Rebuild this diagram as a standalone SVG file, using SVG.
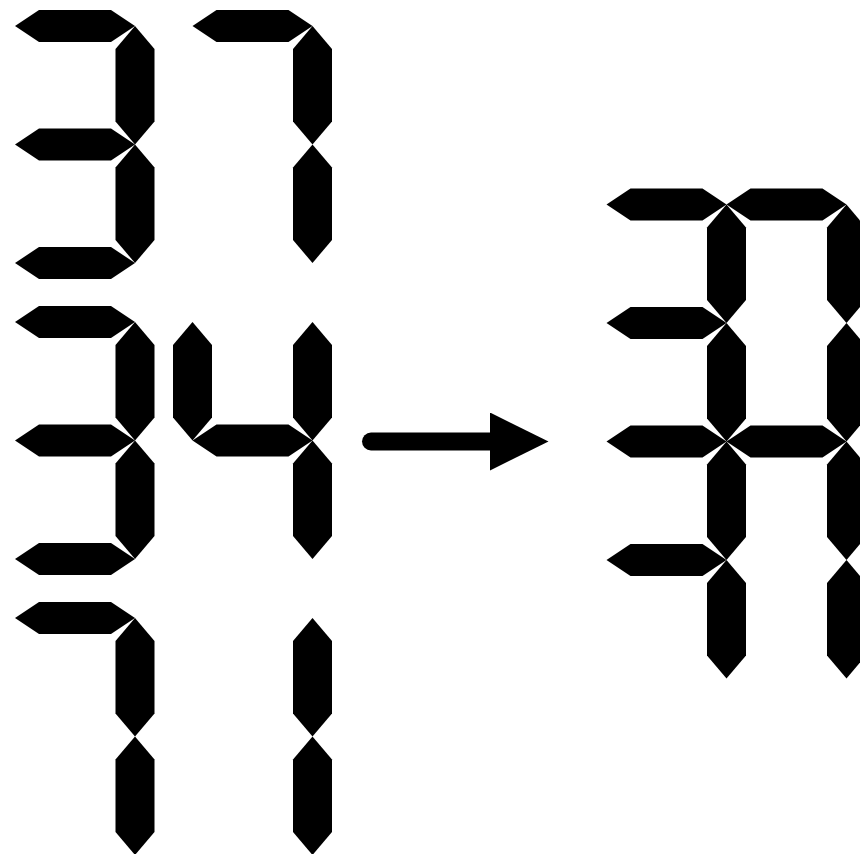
<svg xmlns="http://www.w3.org/2000/svg" width="860" height="854" viewBox="0 0 860 854">
<style>
.seg{fill:#000}
.conn{stroke:#000;stroke-width:18;stroke-linecap:round;fill:none}
</style>
<defs>
<path id="h" class="seg" d="M0,0 L24,-16 L96,-16 L120,0 L96,16 L24,16 Z"/>
<path id="v" class="seg" d="M0,0 L19.5,23 L19.5,95.5 L0,118.5 L-19.5,95.5 L-19.5,23 Z"/>
<marker id="arr" markerUnits="userSpaceOnUse" markerWidth="60" markerHeight="60" refX="0" refY="29" orient="auto" viewBox="0 0 60 60">
<path d="M0,0 L58.5,29 L0,58 Z" fill="#000"/>
</marker>
</defs>
<rect width="860" height="854" fill="#fff"/>
<g id="r1-3">
<use href="#h" x="15" y="26"/><use href="#v" x="135" y="26"/><use href="#v" x="135" y="144.5"/><use href="#h" x="15" y="263"/><use href="#h" x="15" y="144.5"/>
</g>
<g id="r1-7">
<use href="#h" x="192.5" y="26"/><use href="#v" x="312.5" y="26"/><use href="#v" x="312.5" y="144.5"/>
</g>
<g id="r2-3">
<use href="#h" x="15" y="322"/><use href="#v" x="135" y="322"/><use href="#v" x="135" y="440.5"/><use href="#h" x="15" y="559"/><use href="#h" x="15" y="440.5"/>
</g>
<g id="r2-4">
<use href="#v" x="192.5" y="322"/><use href="#v" x="312.5" y="322"/><use href="#h" x="192.5" y="440.5"/><use href="#v" x="312.5" y="440.5"/>
</g>
<g id="r3-7">
<use href="#h" x="15" y="618"/><use href="#v" x="135" y="618"/><use href="#v" x="135" y="736.5"/>
</g>
<g id="r3-1">
<use href="#v" x="312.5" y="618"/><use href="#v" x="312.5" y="736.5"/>
</g>
<g id="result">
<use href="#h" x="606.5" y="204.5"/><use href="#h" x="726.5" y="204.5"/>
<use href="#h" x="606.5" y="323"/>
<use href="#h" x="606.5" y="441.5"/><use href="#h" x="726.5" y="441.5"/>
<use href="#h" x="606.5" y="560"/>
<use href="#v" x="726.5" y="204.5"/><use href="#v" x="726.5" y="323"/><use href="#v" x="726.5" y="441.5"/><use href="#v" x="726.5" y="560"/>
<use href="#v" x="846.5" y="204.5"/><use href="#v" x="846.5" y="323"/><use href="#v" x="846.5" y="441.5"/><use href="#v" x="846.5" y="560"/>
</g>
<g id="connectors">
<line class="conn" x1="371" y1="441.5" x2="490" y2="441.5" marker-end="url(#arr)"/>
</g>
</svg>
